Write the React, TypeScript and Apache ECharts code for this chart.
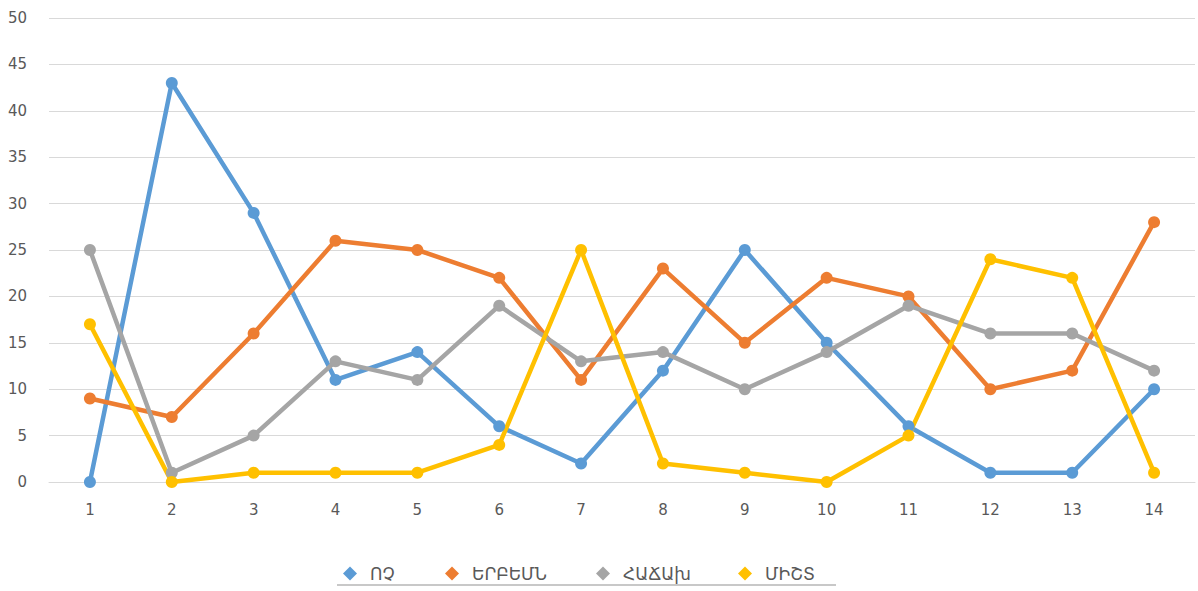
import React, { useEffect, useRef } from "react";
import * as echarts from "echarts";

const categories = ["1", "2", "3", "4", "5", "6", "7", "8", "9", "10", "11", "12", "13", "14"];
const seriesNames = ["ՈՉ", "ԵՐԲԵՄՆ", "ՀԱՃԱխ", "ՄԻՇՏ"];
const valuesNo = [0, 43, 29, 11, 14, 6, 2, 12, 25, 15, 6, 1, 1, 10];
const valuesSometimes = [9, 7, 16, 26, 25, 22, 11, 23, 15, 22, 20, 10, 12, 28];
const valuesOften = [25, 1, 5, 13, 11, 19, 13, 14, 10, 14, 19, 16, 16, 12];
const valuesAlways = [17, 0, 1, 1, 1, 4, 25, 2, 1, 0, 5, 24, 22, 1];
const colors = ["#5B9BD5", "#ED7D31", "#A5A5A5", "#FFC000"];
const legendLefts = [343, 445, 596, 738];

export default function App() {
  const ref = useRef<HTMLDivElement>(null);
  useEffect(() => {
    if (!ref.current) return;
    const chart = echarts.init(ref.current, null, { renderer: "svg" });
    const data = [valuesNo, valuesSometimes, valuesOften, valuesAlways];
    const font = "'DejaVu Sans', 'Noto Sans', sans-serif";
    chart.setOption({
      animation: false,
      color: colors,
      textStyle: { fontFamily: font },
      grid: { left: 49, right: 3, top: 18, bottom: 109, containLabel: false },
      legend: seriesNames.map((name, i) => ({
        top: 565,
        left: legendLefts[i],
        icon: "diamond",
        itemWidth: 14,
        itemHeight: 14,
        padding: 0,
        textStyle: { fontSize: 17, color: "#595959", fontFamily: font, padding: [0, 0, 0, 8] },
        data: [name],
      })),
      graphic: [
        {
          type: "line",
          shape: { x1: 337, y1: 585, x2: 836, y2: 585 },
          style: { stroke: "#c8c8c8", lineWidth: 2 },
        },
      ],
      xAxis: {
        type: "category",
        data: categories,
        boundaryGap: true,
        axisLine: { show: true, lineStyle: { color: "#d9d9d9", width: 1 } },
        axisTick: { show: false },
        axisLabel: { color: "#595959", fontSize: 15, margin: 20 },
      },
      yAxis: {
        type: "value",
        min: 0,
        max: 50,
        interval: 5,
        axisLine: { show: false },
        axisTick: { show: false },
        axisLabel: { color: "#595959", fontSize: 15, margin: 22 },
        splitLine: { lineStyle: { color: "#d9d9d9", width: 1 } },
      },
      series: seriesNames.map((name, i) => ({
        name,
        type: "line",
        data: data[i],
        symbol: "circle",
        symbolSize: 12,
        lineStyle: { width: 4.5, color: colors[i] },
        itemStyle: { color: colors[i] },
      })),
    });
    return () => chart.dispose();
  }, []);
  return <div ref={ref} style={{ width: 1198, height: 591, position: "absolute", left: 0, top: 0 }} />;
}
